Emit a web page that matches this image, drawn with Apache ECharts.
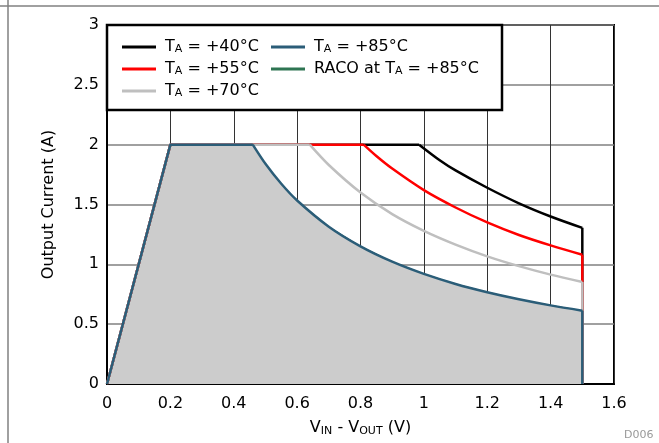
<!DOCTYPE html>
<html>
<head>
<meta charset="utf-8">
<script src="https://cdn.jsdelivr.net/npm/echarts@6/dist/echarts.min.js"></script>
<style>
html, body { margin: 0; padding: 0; background: #fff; }
#container { width: 659px; height: 443px; }
</style>
</head>
<body>
<div id="container"></div>
<script>
// values, [V_IN - V_OUT, output current]
const ta40 = [[0, 0], [0.2, 2], [0.985, 2], [1.05, 1.87], [1.1, 1.785], [1.2, 1.64], [1.3, 1.51], [1.4, 1.4], [1.5, 1.305], [1.5, 0]];
const ta55 = [[0, 0], [0.2, 2], [0.81, 2], [0.85, 1.905], [0.9, 1.8], [1.0, 1.62], [1.1, 1.475], [1.2, 1.35], [1.3, 1.245], [1.4, 1.158], [1.5, 1.08], [1.5, 0]];
const ta70 = [[0, 0], [0.2, 2], [0.64, 2], [0.7, 1.83], [0.8, 1.6], [0.9, 1.42], [1.0, 1.28], [1.1, 1.165], [1.2, 1.067], [1.3, 0.985], [1.4, 0.914], [1.5, 0.853], [1.5, 0]];
const ta85 = [[0, 0], [0.2, 2], [0.46, 2], [0.5, 1.84], [0.55, 1.673], [0.6, 1.533], [0.7, 1.314], [0.8, 1.15], [0.9, 1.022], [1.0, 0.92], [1.1, 0.836], [1.2, 0.767], [1.3, 0.708], [1.4, 0.657], [1.5, 0.613], [1.5, 0]];
const raco85 = ta85;

const xTicks = [0, 0.2, 0.4, 0.6, 0.8, 1, 1.2, 1.4, 1.6];
const yTicks = [0, 0.5, 1, 1.5, 2, 2.5, 3];

const FONT = 'DejaVu Sans';
const myChart = echarts.init(document.getElementById('container'), null, { renderer: 'canvas' });

function sub(name) {
  return name.replace('TA', 'T{s|A}');
}
const richText = {
  s: { fontSize: 11, fontFamily: FONT, color: '#000', verticalAlign: 'bottom', padding: [7, 0, 0, 0] }
};

function lineSeries(name, data, color, extra) {
  return Object.assign({
    name,
    type: 'line',
    data,
    showSymbol: false,
    symbol: 'none',
    smooth: false,
    itemStyle: { color },
    lineStyle: { color, width: 2.5, join: 'round' },
    emphasis: { disabled: true },
    animation: false
  }, extra || {});
}

// straight ramp + flat part, smooth derating curve, vertical drop at the end
function curveSeries(name, data, color) {
  const n = data.length;
  return [
    lineSeries(name, data.slice(0, 3), color),
    lineSeries(name, data.slice(2, n - 1), color, { smooth: 0.3 }),
    lineSeries(name, data.slice(n - 2), color)
  ];
}

const legendCommon = {
  orient: 'vertical',
  icon: 'rect',
  itemWidth: 34,
  itemHeight: 3,
  itemGap: 6,
  z: 5,
  textStyle: { fontSize: 16, fontFamily: FONT, color: '#000', lineHeight: 16, padding: [0, 0, 0, 4], rich: richText },
  formatter: sub,
  selectedMode: false
};

const option = {
  backgroundColor: '#fff',
  animation: false,
  grid: {
    left: 107, right: 45, top: 25, bottom: 59,
    show: true, borderColor: '#000', borderWidth: 2
  },
  legend: [
    Object.assign({ left: 117, top: 34, data: ['TA = +40°C', 'TA = +55°C', 'TA = +70°C'] }, legendCommon),
    Object.assign({ left: 266, top: 34, data: ['TA = +85°C', 'RACO at TA = +85°C'] }, legendCommon)
  ],
  graphic: [
    { type: 'line', shape: { x1: 0, y1: 6, x2: 659, y2: 6 }, style: { stroke: '#808080', lineWidth: 1.5 }, z: 1 },
    { type: 'line', shape: { x1: 8, y1: 0, x2: 8, y2: 443 }, style: { stroke: '#808080', lineWidth: 1.5 }, z: 1 },
    { type: 'rect', shape: { x: 107, y: 25, width: 395, height: 85 }, style: { fill: '#fff', stroke: '#000', lineWidth: 2.5 }, z: 4 },
    { type: 'text', left: 624, top: 430, style: { text: 'D006', fill: '#999', font: '11px ' + FONT }, z: 4 }
  ],
  xAxis: {
    type: 'value',
    min: xTicks[0],
    max: xTicks[xTicks.length - 1],
    interval: 0.2,
    name: 'V{s|IN} - V{s|OUT} (V)',
    nameLocation: 'middle',
    nameGap: 35,
    nameTextStyle: { fontSize: 16, fontFamily: FONT, color: '#000', rich: richText },
    axisLine: { show: true, onZero: false, lineStyle: { color: '#000', width: 2 } },
    axisTick: { show: false },
    axisLabel: { fontSize: 16, fontFamily: FONT, color: '#000', margin: 12 },
    splitLine: { show: true, lineStyle: { color: '#333', width: 1 } }
  },
  yAxis: {
    type: 'value',
    min: yTicks[0],
    max: yTicks[yTicks.length - 1],
    interval: 0.5,
    name: 'Output Current (A)',
    nameLocation: 'middle',
    nameGap: 50,
    nameRotate: 90,
    nameTextStyle: { fontSize: 16, fontFamily: FONT, color: '#000' },
    axisLine: { show: true, onZero: false, lineStyle: { color: '#000', width: 2 } },
    axisTick: { show: false },
    axisLabel: { fontSize: 16, fontFamily: FONT, color: '#000', margin: 8 },
    splitLine: { show: true, lineStyle: { color: '#808080', width: 1.5 } }
  },
  series: [
    ...curveSeries('TA = +40°C', ta40, '#000000'),
    ...curveSeries('TA = +55°C', ta55, '#ff0000'),
    ...curveSeries('TA = +70°C', ta70, '#bfbfbf'),
    lineSeries('RACO at TA = +85°C', raco85, '#2e7552', { areaStyle: { color: '#cccccc', opacity: 1 }, lineStyle: { color: '#2e7552', width: 1 } }),
    ...curveSeries('TA = +85°C', ta85, '#2b5d78')
  ]
};

myChart.setOption(option);
</script>
</body>
</html>
